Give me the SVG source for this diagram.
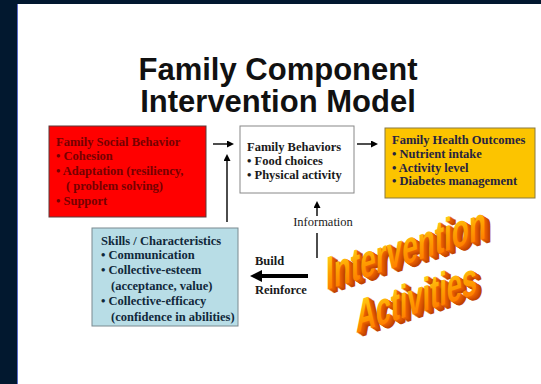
<svg xmlns="http://www.w3.org/2000/svg" width="541" height="384" viewBox="0 0 541 384">
<defs>
<style>
.box text{font-family:"Liberation Serif","Times New Roman",serif;font-size:12.5px;font-weight:bold}
.lbl{font-family:"Liberation Serif","Times New Roman",serif;font-size:12.5px;fill:#1a1a1a}
.title{font-family:"Liberation Sans",Arial,sans-serif;font-size:31px;font-weight:bold;fill:#111;text-anchor:middle}
.thin{stroke:#000;stroke-width:1.4;fill:none}
.wa{font-family:"Liberation Sans",Arial,sans-serif;font-weight:bold}
</style>
<marker id="ah" viewBox="0 0 10 10" refX="0" refY="5" markerWidth="8" markerHeight="7" markerUnits="userSpaceOnUse" orient="auto">
<path d="M0,0 L10,5 L0,10 z" fill="#000"/>
</marker>
<marker id="ahb" viewBox="0 0 10 10" refX="0" refY="5" markerWidth="12" markerHeight="13" markerUnits="userSpaceOnUse" orient="auto">
<path d="M0,0 L10,5 L0,10 z" fill="#000"/>
</marker>
<linearGradient id="face" x1="0" y1="0" x2="0" y2="1">
<stop offset="0" stop-color="#ffe020"/>
<stop offset="0.5" stop-color="#ffa000"/>
<stop offset="1" stop-color="#ff6c00"/>
</linearGradient>
</defs>
<rect x="0" y="0" width="541" height="384" fill="#ffffff"/>
<rect x="0" y="0" width="541" height="4" fill="#02182f"/>
<rect x="0" y="0" width="17" height="384" fill="#02182f"/>
<rect x="17" y="4" width="1" height="380" fill="#5a6cc8"/>

<g id="title">
<text class="title" x="278" y="80">Family Component</text>
<text class="title" x="278" y="112">Intervention Model</text>
</g>

<g id="node-social" class="box">
<rect x="49" y="126" width="157" height="91" fill="#ff0000" stroke="#5a3a3a" stroke-width="1"/>
<g fill="#760000">
<text x="56" y="146">Family Social Behavior</text>
<text x="56" y="160">• Cohesion</text>
<text x="56" y="175">• Adaptation (resiliency,</text>
<text x="66" y="190">( problem solving)</text>
<text x="56" y="205">• Support</text>
</g>
</g>

<g id="node-behaviors" class="box">
<rect x="240" y="126" width="114" height="67" fill="#ffffff" stroke="#888" stroke-width="1"/>
<g fill="#1a1a1a">
<text x="247" y="151">Family Behaviors</text>
<text x="247" y="165">• Food choices</text>
<text x="247" y="179">• Physical activity</text>
</g>
</g>

<g id="node-outcomes" class="box">
<rect x="385" y="128" width="150" height="70" fill="#fcc400" stroke="#8a7a40" stroke-width="1"/>
<g fill="#262340">
<text x="392" y="144">Family Health Outcomes</text>
<text x="392" y="158">• Nutrient intake</text>
<text x="392" y="172">• Activity level</text>
<text x="392" y="185">• Diabetes management</text>
</g>
</g>

<g id="node-skills" class="box">
<rect x="92" y="228" width="146" height="98" fill="#b8dde6" stroke="#7a8a90" stroke-width="1"/>
<g fill="#10283a">
<text x="101" y="245">Skills / Characteristics</text>
<text x="101" y="259">• Communication</text>
<text x="101" y="274">• Collective-esteem</text>
<text x="111" y="290">(acceptance, value)</text>
<text x="101" y="305">• Collective-efficacy</text>
<text x="111" y="321">(confidence in abilities)</text>
</g>
</g>

<g id="connectors">
<line class="thin" x1="213" y1="144" x2="227" y2="144" marker-end="url(#ah)"/>
<line class="thin" x1="227" y1="222" x2="227" y2="161" marker-end="url(#ah)"/>
<line class="thin" x1="357" y1="144" x2="371" y2="144" marker-end="url(#ah)"/>
<line class="thin" x1="317" y1="216" x2="317" y2="208" marker-end="url(#ah)"/>
<line class="thin" x1="317" y1="233" x2="317" y2="258"/>
<line x1="308" y1="276" x2="262" y2="276" stroke="#000" stroke-width="4" marker-end="url(#ahb)"/>
</g>

<g id="labels">
<text class="lbl" x="323" y="226" text-anchor="middle">Information</text>
<text class="lbl" x="255" y="265" font-weight="bold">Build</text>
<text class="lbl" x="255" y="294" font-weight="bold">Reinforce</text>
</g>

<g id="wordart">
<g transform="translate(326,290) skewY(-18) scale(1,1.42)">
<g class="wa" font-size="33" fill="#c04400">
<text x="6" y="4" textLength="160" lengthAdjust="spacingAndGlyphs">Intervention</text>
<text x="5" y="3.4" textLength="160" lengthAdjust="spacingAndGlyphs">Intervention</text>
<text x="4" y="2.7" textLength="160" lengthAdjust="spacingAndGlyphs" fill="#cc4c00">Intervention</text>
<text x="3" y="2" textLength="160" lengthAdjust="spacingAndGlyphs" fill="#d85400">Intervention</text>
<text x="2" y="1.3" textLength="160" lengthAdjust="spacingAndGlyphs" fill="#e05c00">Intervention</text>
<text x="1" y="0.6" textLength="160" lengthAdjust="spacingAndGlyphs" fill="#e86400">Intervention</text>
<text x="0" y="0" textLength="160" lengthAdjust="spacingAndGlyphs" fill="url(#face)">Intervention</text>
</g>
</g>
<g transform="translate(356,333) skewY(-18) scale(1,1.42)">
<g class="wa" font-size="33" fill="#c04400">
<text x="6" y="4" textLength="121" lengthAdjust="spacingAndGlyphs">Activities</text>
<text x="5" y="3.4" textLength="121" lengthAdjust="spacingAndGlyphs">Activities</text>
<text x="4" y="2.7" textLength="121" lengthAdjust="spacingAndGlyphs" fill="#cc4c00">Activities</text>
<text x="3" y="2" textLength="121" lengthAdjust="spacingAndGlyphs" fill="#d85400">Activities</text>
<text x="2" y="1.3" textLength="121" lengthAdjust="spacingAndGlyphs" fill="#e05c00">Activities</text>
<text x="1" y="0.6" textLength="121" lengthAdjust="spacingAndGlyphs" fill="#e86400">Activities</text>
<text x="0" y="0" textLength="121" lengthAdjust="spacingAndGlyphs" fill="url(#face)">Activities</text>
</g>
</g>
</g>
</svg>
